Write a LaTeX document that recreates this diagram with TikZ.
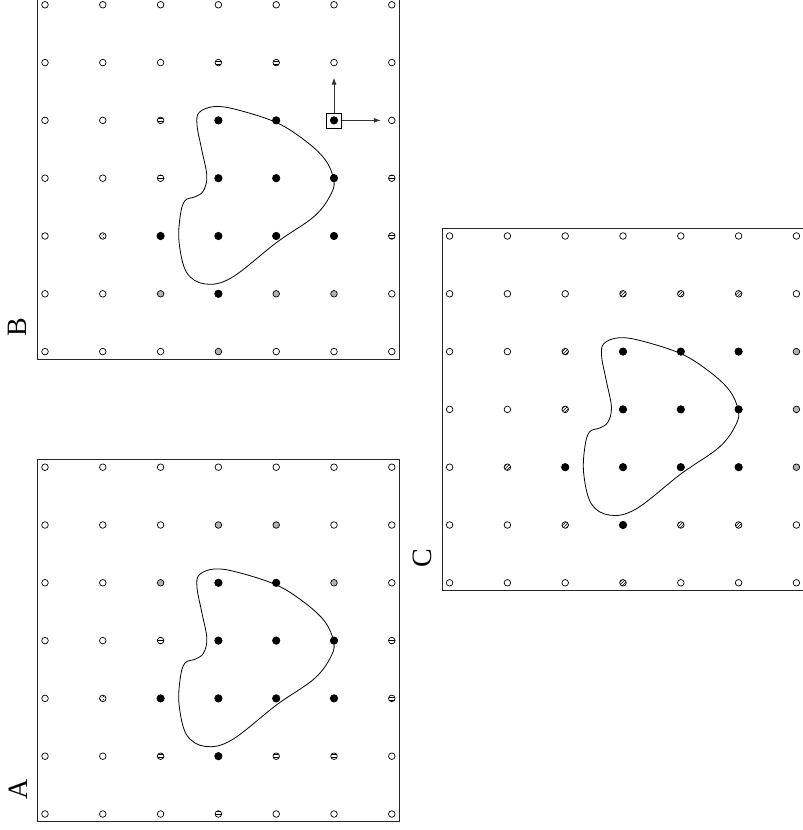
\documentclass[tikz,border=0pt]{standalone}
\usepackage{fontspec}
\setmainfont{Liberation Serif}
\usetikzlibrary{patterns,arrows.meta}
\tikzset{
  pt/.style={circle, draw=black, line width=0.7pt, inner sep=0pt, minimum size=6.6pt},
  pt-o/.style={pt, fill=white},
  pt-b/.style={pt, fill=black, minimum size=7.4pt},
  pt-g/.style={pt, fill=black!30},
  pt-h/.style={pt, pattern=horizontal lines},
  pt-d/.style={pt, pattern=crosshatch dots},
  pt-x/.style={pt, pattern=north east lines},
  frame/.style={draw=black!85, line width=0.9pt},
  blob/.style={line width=0.8pt},
  probe/.style={draw, line width=0.7pt, inner sep=0pt, minimum size=15pt},
  move/.style={-{Latex[length=7pt,width=5pt]}, draw=black!80, line width=0.8pt},
}
\begin{document}
\begin{tikzpicture}[x=57.8pt, y=57.8pt]
  \useasboundingbox (-0.7785,-0.2768) rectangle (13.097,14.083);
  % frames, outlines and letters of the three panels
  \foreach \p/\ox/\oy in {A/0/0, B/0/8, C/7/4} {
    \begin{scope}[shift={(\ox,\oy)}]
      \draw[frame] (-0.13,-0.13) rectangle (6.13,6.13);
      \draw[blob] plot[smooth cycle, tension=0.6] coordinates {
        (2.94,4.24) (2.67,4.14) (2.63,3.92) (2.71,3.50) (2.80,3.04)
        (2.74,2.78) (2.60,2.68) (2.42,2.61) (2.34,2.35) (2.32,1.89)
        (2.45,1.37) (2.77,1.17) (3.23,1.28) (4.01,1.89) (4.67,2.35)
        (4.96,2.75) (4.99,3.00) (4.84,3.33) (4.50,3.65) (4.01,3.96)
        (3.34,4.18)};
      \node[rotate=90, font=\fontsize{28}{30}\selectfont] (lab\p) at (-0.47,0.43) {\p};
    \end{scope}
  }
  % panel A
  \foreach \y/\row in {6/{o,o,o,o,o,o,o}, 5/{o,o,o,g,g,o,o}, 4/{o,o,g,b,b,g,o},
      3/{o,o,h,b,b,b,h}, 2/{o,d,b,b,b,b,h}, 1/{o,o,h,b,h,h,o}, 0/{o,o,o,h,o,o,o}}
    \foreach \s [count=\x from 0] in \row
      \node[pt-\s] (A-\x-\y) at (\x,\y) {};
  % panel B
  \begin{scope}[shift={(0,8)}]
    \foreach \y/\row in {6/{o,o,o,o,o,o,o}, 5/{o,o,o,h,h,o,o}, 4/{o,o,h,b,b,b,o},
        3/{o,o,h,b,b,b,h}, 2/{o,d,b,b,b,b,h}, 1/{o,o,g,b,g,g,o}, 0/{o,o,o,g,o,o,o}}
      \foreach \s [count=\x from 0] in \row
        \node[pt-\s] (B-\x-\y) at (\x,\y) {};
    \node[probe] (Bbox) at (B-5-4) {};
    \coordinate (Bup) at (5,4.74);
    \coordinate (Bright) at (5.81,4);
    \draw[move] (Bbox.north) -- (Bup);
    \draw[move] (Bbox.east) -- (Bright);
  \end{scope}
  % panel C
  \begin{scope}[shift={(7,4)}]
    \foreach \y/\row in {6/{o,o,o,o,o,o,o}, 5/{o,o,o,x,x,x,o}, 4/{o,o,x,b,b,b,g},
        3/{o,o,x,b,b,b,g}, 2/{o,x,b,b,b,b,g}, 1/{o,o,x,b,x,x,o}, 0/{o,o,o,x,o,o,o}}
      \foreach \s [count=\x from 0] in \row
        \node[pt-\s] (C-\x-\y) at (\x,\y) {};
  \end{scope}
\end{tikzpicture}
\end{document}
